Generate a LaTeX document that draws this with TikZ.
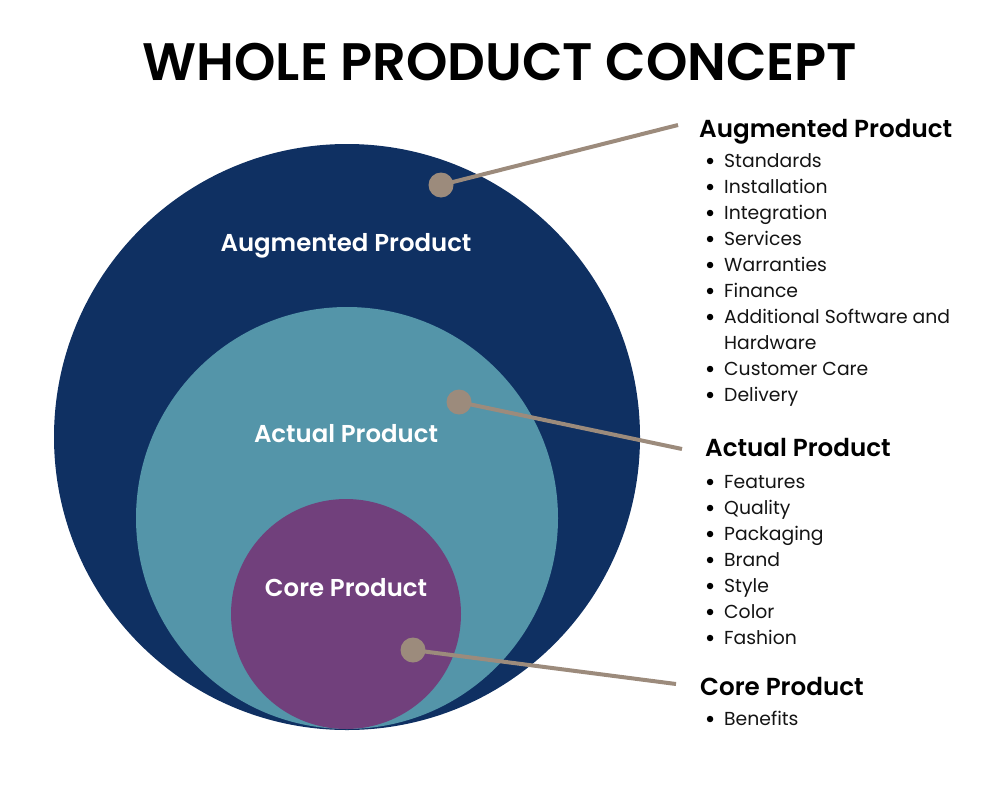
\documentclass[tikz,border=0pt]{standalone}
\usepackage{fontspec}
\setmainfont{Poppins}[BoldFont={Poppins SemiBold}]
\usepackage{tikz}
\usetikzlibrary{calc}
\definecolor{navyblue}{HTML}{0F3062}
\definecolor{tealblue}{HTML}{5495A9}
\definecolor{plumpurple}{HTML}{71407C}
\definecolor{taupe}{HTML}{9C8B7C}
\definecolor{textblack}{HTML}{141414}

\begin{document}
\begin{tikzpicture}[x=1pt,y=-1pt,
  ring/.style={circle,inner sep=0pt,draw=none},
  circtext/.style={text=white,font=\fontsize{24.4}{28}\selectfont\bfseries},
  dot/.style={circle,fill=taupe,inner sep=0pt,minimum size=25pt},
  leader/.style={taupe,line width=4pt},
  head/.style={anchor=base west,inner sep=0pt,text=black,font=\fontsize{24.6}{28}\selectfont\bfseries},
  item/.style={anchor=base west,inner sep=0pt,text height=16pt,text depth=4pt,text=textblack,
    font=\fontsize{18.8}{22}\selectfont,
    label={[circle,fill=black,inner sep=0pt,minimum size=6.5pt,xshift=-10.5pt]left:}},
  itemcont/.style={anchor=base west,inner sep=0pt,text=textblack,font=\fontsize{18.8}{22}\selectfont}]
  \useasboundingbox (0,0) rectangle (1000,800);
  \node[font=\fontsize{52.7}{60}\selectfont\bfseries] (title) at (500,62) {WHOLE PRODUCT CONCEPT};
  % rings
  \node[ring,fill=navyblue,minimum size=586pt] (augring) at (347,437) {};
  \node[ring,fill=tealblue,minimum size=422pt] (actring) at (347,518) {};
  \node[ring,fill=plumpurple,minimum size=230pt] (corering) at (346,614) {};
  \node[circtext,anchor=base] (auglabel) at (346,251) {Augmented Product};
  \node[circtext,anchor=base] (actlabel) at (346,442) {Actual Product};
  \node[circtext,anchor=base] (corelabel) at (346,596) {Core Product};
  % pointers
  \node[dot] (augdot) at (441,185) {};
  \node[dot] (actdot) at (459,402) {};
  \node[dot] (coredot) at (413,650) {};
  \coordinate (augend) at (678,125);
  \coordinate (actend) at (682,449);
  \coordinate (coreend) at (676,684);
  \draw[leader] (augdot.center) -- (augend);
  \draw[leader] (actdot.center) -- (actend);
  \draw[leader] (coredot.center) -- (coreend);
  % augmented product list
  \node[head] (aughead) at (699,137) {Augmented Product};
  \node[item] (aug1) at (724,167) {Standards};
  \node[item] (aug2) at (724,193) {Installation};
  \node[item] (aug3) at (724,219) {Integration};
  \node[item] (aug4) at (724,245) {Services};
  \node[item] (aug5) at (724,271) {Warranties};
  \node[item] (aug6) at (724,297) {Finance};
  \node[item] (aug7) at (724,323) {Additional Software and};
  \node[itemcont] (aug7b) at (724,349) {Hardware};
  \node[item] (aug8) at (724,375) {Customer Care};
  \node[item] (aug9) at (724,401) {Delivery};
  % actual product list
  \node[head] (acthead) at (705,456) {Actual Product};
  \node[item] (act1) at (724,488) {Features};
  \node[item] (act2) at (724,514) {Quality};
  \node[item] (act3) at (724,540) {Packaging};
  \node[item] (act4) at (724,566) {Brand};
  \node[item] (act5) at (724,592) {Style};
  \node[item] (act6) at (724,618) {Color};
  \node[item] (act7) at (724,644) {Fashion};
  % core product list
  \node[head] (corehead) at (700,695) {Core Product};
  \node[item] (core1) at (724,725) {Benefits};
\end{tikzpicture}
\end{document}
